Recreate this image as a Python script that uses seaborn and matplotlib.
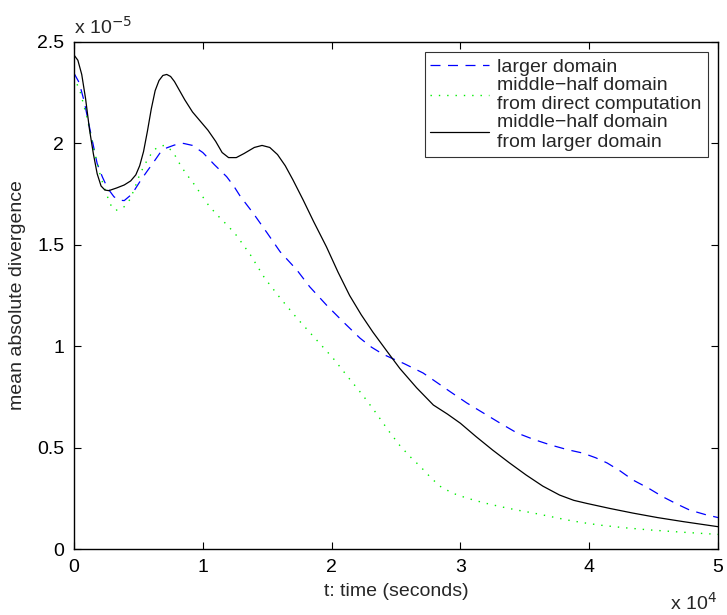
import matplotlib
matplotlib.use("Agg")
import matplotlib.pyplot as plt
import seaborn as sns

# Time in units of 1e4 s, divergence in units of 1e-5
t_larger = [0.0, 0.04, 0.078, 0.13, 0.18, 0.22, 0.26, 0.31, 0.35, 0.39, 0.45, 0.52, 0.57, 0.61,
            0.67, 0.72, 0.78, 0.85, 0.92, 1.0, 1.09, 1.185, 1.24, 1.29, 1.39, 1.50, 1.60, 1.73,
            1.83, 1.96, 2.09, 2.22, 2.31, 2.40, 2.48, 2.56, 2.71, 2.82, 2.92, 3.05, 3.18, 3.31,
            3.44, 3.57, 3.70, 3.83, 3.95, 4.05, 4.14, 4.24, 4.34, 4.46, 4.57, 4.68, 4.78, 4.90, 5.0]
y_larger = [2.346, 2.30, 2.21, 2.05, 1.90, 1.835, 1.78, 1.737, 1.72, 1.718, 1.75, 1.82, 1.865, 1.90,
            1.955, 1.978, 1.992, 2.0, 1.99, 1.955, 1.895, 1.836, 1.79, 1.74, 1.657, 1.558, 1.466, 1.376,
            1.293, 1.203, 1.12, 1.04, 0.995, 0.96, 0.937, 0.915, 0.868, 0.82, 0.776, 0.72, 0.67, 0.62,
            0.572, 0.54, 0.513, 0.49, 0.473, 0.45, 0.424, 0.385, 0.34, 0.30, 0.258, 0.222, 0.192, 0.17, 0.155]

t_direct = [0.0, 0.05, 0.10, 0.155, 0.207, 0.26, 0.29, 0.32, 0.36, 0.39, 0.43, 0.466, 0.50, 0.54,
            0.58, 0.62, 0.66, 0.70, 0.74, 0.776, 0.82, 0.867, 0.92, 0.98, 1.05, 1.13, 1.20, 1.263,
            1.37, 1.48, 1.60, 1.73, 1.87, 2.01, 2.14, 2.24, 2.34, 2.44, 2.53, 2.61, 2.69, 2.77,
            2.84, 2.94, 3.05, 3.18, 3.31, 3.44, 3.57, 3.70, 3.83, 3.95, 4.08, 4.27, 4.47, 4.72, 5.0]
y_direct = [2.33, 2.25, 2.13, 1.967, 1.836, 1.737, 1.69, 1.67, 1.675, 1.688, 1.72, 1.77, 1.83, 1.885,
            1.93, 1.967, 1.985, 1.99, 1.975, 1.95, 1.90, 1.853, 1.81, 1.755, 1.69, 1.635, 1.59, 1.545,
            1.45, 1.336, 1.238, 1.139, 1.04, 0.942, 0.838, 0.76, 0.675, 0.585, 0.51, 0.455, 0.406, 0.352,
            0.31, 0.275, 0.251, 0.228, 0.209, 0.192, 0.177, 0.16, 0.143, 0.13, 0.118, 0.105, 0.094, 0.083, 0.072]

t_from_larger = [0.0, 0.03, 0.06, 0.09, 0.12, 0.15, 0.18, 0.21, 0.24, 0.27, 0.33, 0.39, 0.44, 0.48,
                 0.51, 0.54, 0.57, 0.60, 0.63, 0.66, 0.69, 0.72, 0.75, 0.78, 0.82, 0.86, 0.92, 0.98,
                 1.04, 1.10, 1.15, 1.20, 1.26, 1.32, 1.40, 1.46, 1.52, 1.58, 1.64, 1.70, 1.78, 1.86,
                 1.96, 2.05, 2.14, 2.23, 2.32, 2.43, 2.53, 2.66, 2.79, 2.90, 3.0, 3.12, 3.25, 3.38,
                 3.51, 3.64, 3.77, 3.88, 3.98, 4.16, 4.34, 4.53, 4.73, 5.0]
y_from_larger = [2.436, 2.41, 2.34, 2.22, 2.07, 1.95, 1.85, 1.79, 1.77, 1.767, 1.78, 1.795, 1.815, 1.845,
                 1.89, 1.96, 2.06, 2.17, 2.26, 2.31, 2.335, 2.34, 2.33, 2.305, 2.26, 2.215, 2.155, 2.11,
                 2.065, 2.01, 1.955, 1.93, 1.93, 1.95, 1.98, 1.99, 1.98, 1.945, 1.89, 1.82, 1.72, 1.615,
                 1.49, 1.365, 1.25, 1.155, 1.07, 0.975, 0.89, 0.795, 0.71, 0.665, 0.62, 0.555, 0.488, 0.425,
                 0.365, 0.31, 0.266, 0.24, 0.225, 0.20, 0.177, 0.155, 0.135, 0.11]

labels = ["larger domain",
          "middle\u2212half domain\nfrom direct computation",
          "middle\u2212half domain\nfrom larger domain"]
x_ticks = [0, 1, 2, 3, 4, 5]
y_ticks = [0, 0.5, 1, 1.5, 2, 2.5]
y_tick_labels = ["0", "0.5", "1", "1.5", "2", "2.5"]

FS = 14
sns.set_style("white")
plt.rcParams['font.family'] = ['Liberation Sans', 'DejaVu Sans']
plt.rcParams['font.size'] = FS

fig = plt.figure(figsize=(7.27, 6.15), dpi=100)
ax = fig.add_axes([74/727, (615-549)/615, 644/727, 507/615])

sns.lineplot(x=t_larger, y=y_larger, ax=ax, color="#0000ff", linewidth=0.9,
             label=labels[0], estimator=None, sort=False)
ax.lines[-1].set_dashes([8, 6])
sns.lineplot(x=t_direct, y=y_direct, ax=ax, color="#00ee00", linewidth=1.0,
             label=labels[1], estimator=None, sort=False)
ax.lines[-1].set_dashes([1, 5])
sns.lineplot(x=t_from_larger, y=y_from_larger, ax=ax, color="black", linewidth=0.9,
             label=labels[2], estimator=None, sort=False)

ax.set_xlim(0, 5)
ax.set_ylim(0, 2.5)
ax.set_xticks(x_ticks)
ax.set_xticklabels([str(v) for v in x_ticks])
ax.set_yticks(y_ticks)
ax.set_yticklabels(y_tick_labels)
ax.tick_params(direction="in", length=5, width=0.8, top=True, right=True,
               bottom=True, left=True, labelsize=FS, pad=7, colors="black")
for s in ax.spines.values():
    s.set_visible(True)
    s.set_color("black")
    s.set_linewidth(1.0)

ax.set_xlabel("t: time (seconds)", fontsize=FS, labelpad=5)
ax.set_ylabel("mean absolute divergence", fontsize=FS, labelpad=8)

fig.text(74/727, 1 - 34/615, "x 10$^{-5}$", fontsize=FS, ha="left", va="baseline")
fig.text(717/727, 1 - 610/615, "x 10$^{4}$", fontsize=FS, ha="right", va="baseline")

leg = ax.legend(loc="upper right", bbox_to_anchor=(0.984, 0.980), borderaxespad=0,
                fontsize=FS, frameon=True, fancybox=False, edgecolor="black",
                handlelength=3.0, labelspacing=0.05, borderpad=0.3, handletextpad=0.45)
leg.get_frame().set_linewidth(0.8)

fig.savefig("out.png", dpi=100)
